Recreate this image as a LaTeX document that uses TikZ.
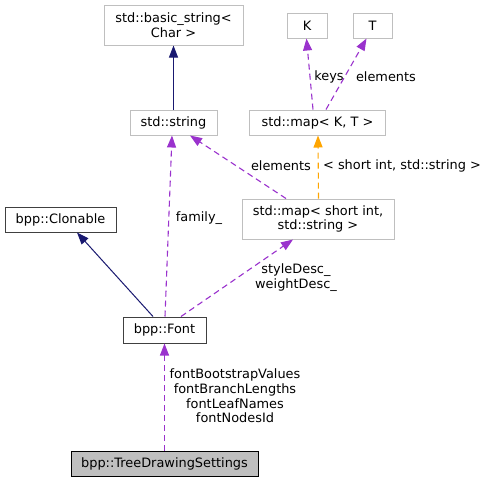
\documentclass[tikz,border=0pt]{standalone}
\usepackage{fontspec}
\setmainfont{DejaVu Sans}
\usetikzlibrary{arrows.meta}
\definecolor{usecol}{HTML}{9A32CD}
\definecolor{tmplcol}{HTML}{FFA500}
\definecolor{inhcol}{HTML}{191970}
\definecolor{extborder}{HTML}{BFBFBF}
\definecolor{clsborder}{HTML}{404040}
\definecolor{curfill}{HTML}{BFBFBF}
\begin{document}
\begin{tikzpicture}[x=1pt,y=-1pt,
  every node/.style={font=\fontsize{12.9}{14.6}\selectfont, inner sep=0pt},
  box/.style={draw, line width=1pt, align=center, fill=white},
  extbox/.style={box, draw=extborder},
  clsbox/.style={box, draw=clsborder},
  curbox/.style={box, draw=black, fill=curfill},
  tip/.style={-{Triangle[length=12pt,width=9pt]}},
  uses/.style={tip, draw=usecol, line width=1.1pt, dash pattern=on 6pt off 4pt},
  tmpl/.style={tip, draw=tmplcol, line width=1.1pt, dash pattern=on 6pt off 4pt},
  inh/.style={tip, draw=inhcol, line width=1pt},
  lbl/.style={align=center, text=black}
]
\useasboundingbox (0,0) rectangle (485,483);

\node[extbox, minimum width=139pt, minimum height=40pt] (bs) at (173.5,25) {std::basic\_string\textless\\Char \textgreater};
\node[extbox, minimum width=40pt, minimum height=25pt] (K) at (307,25.5) {K};
\node[extbox, minimum width=39pt, minimum height=25pt] (T) at (372.5,25.5) {T};
\node[extbox, minimum width=87pt, minimum height=25pt] (str) at (173.5,122.5) {std::string};
\node[extbox, minimum width=136pt, minimum height=25pt] (mkt) at (317.5,122.5) {std::map\textless{} K, T \textgreater};
\node[extbox, minimum width=152pt, minimum height=40pt] (msi) at (318,219) {std::map\textless{} short int,\\std::string \textgreater};
\node[clsbox, minimum width=111pt, minimum height=25pt] (clon) at (60.5,219.5) {bpp::Clonable};
\node[clsbox, minimum width=83pt, minimum height=26pt] (font) at (164.5,330) {bpp::Font};
\node[curbox, minimum width=187pt, minimum height=25pt] (tds) at (164.5,463.5) {bpp::TreeDrawingSettings};

\draw[inh] (str.north) -- (bs.south);
\draw[inh] ([xshift=-11.5pt]font.north) -- ([xshift=16.5pt]clon.south);
\draw[uses] ([xshift=0.5pt]font.north) -- ([xshift=-1.5pt]str.south);
\draw[uses] ([xshift=16.5pt]font.north) -- ([xshift=-25pt]msi.south);
\draw[uses] ([xshift=-32pt]msi.north) -- ([xshift=16.5pt]str.south);
\draw[tmpl] ([xshift=0.5pt]msi.north) -- ([xshift=0.5pt]mkt.south);
\draw[uses] ([xshift=-4.5pt]mkt.north) -- ([xshift=-0.5pt]K.south);
\draw[uses] ([xshift=8.5pt]mkt.north) -- ([xshift=-6pt]T.south);
\draw[uses] (tds.north) -- (font.south);

\node[lbl] (lkeys) at (329,77) {keys};
\node[lbl] (lel1) at (386,77) {elements};
\node[lbl] (lel2) at (281,166) {elements};
\node[lbl] (ltmpl) at (402,166) {\textless{} short int, std::string \textgreater};
\node[lbl] (lfam) at (199,218) {family\_};
\node[lbl] (lsw) at (296,277.5) {styleDesc\_\\weightDesc\_};
\node[lbl] (lfonts) at (235,396) {fontBootstrapValues\\fontBranchLengths\\fontLeafNames\\fontNodesId};
\end{tikzpicture}
\end{document}
